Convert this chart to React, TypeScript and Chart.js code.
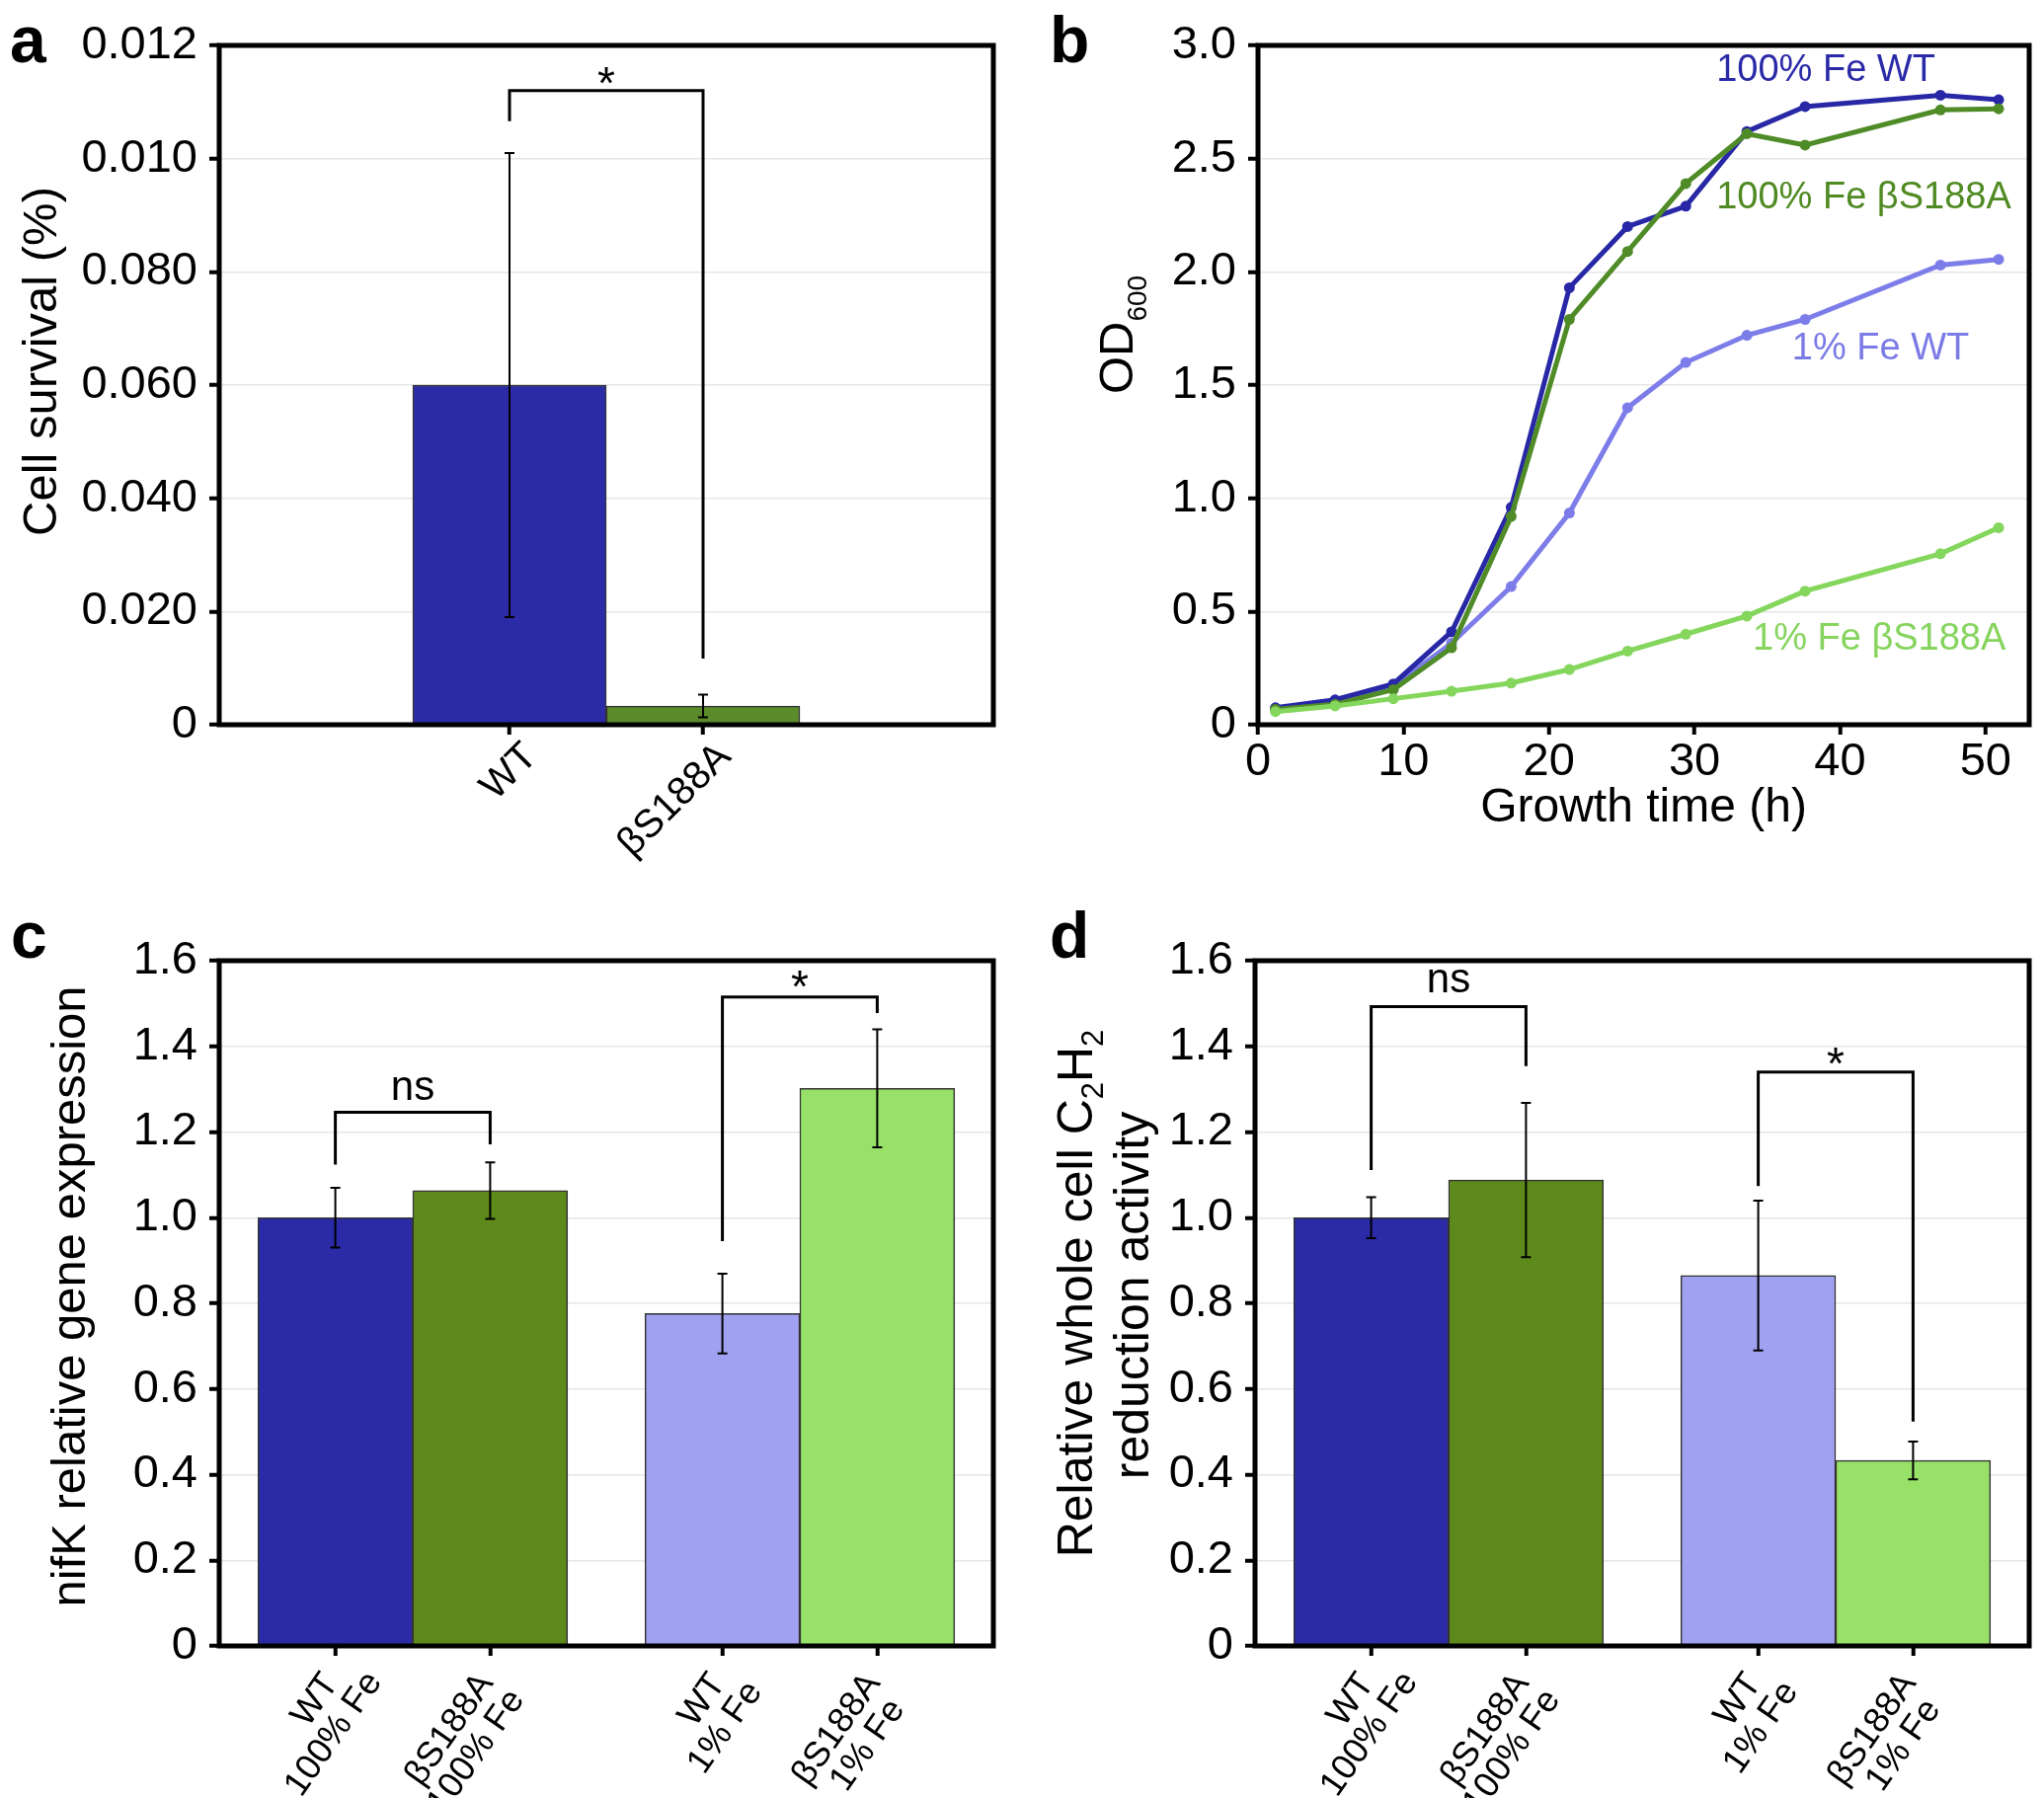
import React, { useEffect, useRef } from 'react';
import { Chart, registerables } from 'chart.js';

Chart.register(...registerables);

const FONT = "'Liberation Sans', Arial, Helvetica, sans-serif";
const W = 2070;
const H = 1821;

// ---------------- data ----------------
// Panel a
const A_CATEGORIES = ['WT', 'βS188A'];
const A_VALUES = [0.06, 0.0033];
const A_ERRORS = [0.041, 0.002];
const A_Y_TICK_LABELS = ['0', '0.020', '0.040', '0.060', '0.080', '0.010', '0.012'];
const A_BRACKETS = [{ from: 0, to: 1, left: 0.1066, top: 0.112, right: 0.0117, text: '*', textY: 0.1153 }];

// Panel b
const B_TIME = [1.2, 5.3, 9.3, 13.3, 17.4, 21.4, 25.4, 29.4, 33.6, 37.6, 46.9, 50.9];
const B_WT_100 = [0.075, 0.11, 0.18, 0.41, 0.96, 1.93, 2.2, 2.29, 2.62, 2.73, 2.78, 2.76];
const B_MUT_100 = [0.068, 0.09, 0.155, 0.34, 0.92, 1.79, 2.09, 2.39, 2.61, 2.56, 2.715, 2.72];
const B_WT_1 = [0.07, 0.105, 0.17, 0.36, 0.61, 0.935, 1.4, 1.6, 1.72, 1.79, 2.03, 2.055];
const B_MUT_1 = [0.058, 0.083, 0.115, 0.148, 0.184, 0.244, 0.325, 0.4, 0.48, 0.59, 0.755, 0.87];
const B_SERIES_NAMES = ['100% Fe WT', '100% Fe βS188A', '1% Fe WT', '1% Fe βS188A'];
const B_NAME_X = [31.5, 31.5, 36.7, 34.0];
const B_NAME_Y = [2.887, 2.326, 1.657, 0.379];

// Panels c and d
const CD_CATEGORIES = [
  ['WT', '100% Fe'],
  ['βS188A', '100% Fe'],
  ['WT', '1% Fe'],
  ['βS188A', '1% Fe'],
];
const C_VALUES = [1.0, 1.063, 0.776, 1.302];
const C_ERRORS = [0.07, 0.066, 0.093, 0.138];
const C_BRACKETS = [
  { from: 0, to: 1, left: 1.124, top: 1.246, right: 1.171, text: 'ns', textY: 1.3 },
  { from: 2, to: 3, left: 0.945, top: 1.515, right: 1.478, text: '*', textY: 1.565 },
];
const D_VALUES = [1.0, 1.088, 0.865, 0.433];
const D_ERRORS = [0.048, 0.18, 0.175, 0.044];
const D_BRACKETS = [
  { from: 0, to: 1, left: 1.111, top: 1.493, right: 1.354, text: 'ns', textY: 1.552 },
  { from: 2, to: 3, left: 1.074, top: 1.34, right: 0.524, text: '*', textY: 1.384 },
];

// ---------------- styling / layout ----------------
const COL_WT100 = '#2b2aa7';
const COL_MUT100 = '#5e8a1c';
const COL_WT1 = '#a1a1f1';
const COL_MUT1 = '#97e168';
const COL_A_MUT = '#5b8b2b';
const LINE_COLS = ['#2828a6', '#4f8b27', '#7d7dea', '#84d65c'];
const TEXT_COLS = ['#2a2aa8', '#4f8a22', '#7b7be6', '#86d45e'];

const PANEL_A = { left: 222, top: 46, right: 1006, bottom: 734 };
const PANEL_B = { left: 1274, top: 46, right: 2055, bottom: 734 };
const PANEL_C = { left: 222, top: 973, right: 1006, bottom: 1667 };
const PANEL_D = { left: 1271, top: 973, right: 2055, bottom: 1667 };
const A_SLOTS = [1.5, 2.5];
const CD_SLOTS = [1.5, 3.5, 6.5, 8.5];

const AXIS_W = 200;
const AXIS_H = 80;
const TICK_SIZE = 47;

type Rect = { left: number; top: number; right: number; bottom: number };
type Bracket = { from: number; to: number; left: number; top: number; right: number; text: string; textY: number };
type Run = { text: string; size: number; dy?: number };

function layoutFor(p: Rect) {
  return {
    padding: { left: p.left - AXIS_W, top: p.top, right: W - p.right, bottom: H - p.bottom - AXIS_H },
  };
}
const fitY = (s: any) => {
  s.width = AXIS_W;
  s.paddingTop = 0; s.paddingBottom = 0; s.paddingLeft = 0; s.paddingRight = 0;
};
const fitX = (s: any) => {
  s.height = AXIS_H;
  s.paddingTop = 0; s.paddingBottom = 0; s.paddingLeft = 0; s.paddingRight = 0;
};

const tickGrid = (onArea: boolean) => ({
  drawOnChartArea: onArea,
  color: '#e6e6e6',
  lineWidth: 1.5,
  tickColor: '#000',
  tickWidth: 4,
  tickLength: 10,
  offset: false,
});

function drawFrame(chart: any) {
  const { ctx, chartArea: a } = chart;
  ctx.save();
  ctx.strokeStyle = '#000';
  ctx.lineWidth = 5;
  ctx.strokeRect(a.left, a.top, a.right - a.left, a.bottom - a.top);
  ctx.restore();
}

function drawErrorBars(chart: any, slots: number[], values: number[], errors: number[]) {
  const { ctx } = chart;
  const x = chart.scales.x;
  const y = chart.scales.y;
  ctx.save();
  ctx.strokeStyle = '#000';
  ctx.lineWidth = 2;
  values.forEach((v, i) => {
    const px = x.getPixelForValue(slots[i]);
    const t = y.getPixelForValue(v + errors[i]);
    const b = y.getPixelForValue(v - errors[i]);
    ctx.beginPath();
    ctx.moveTo(px, t); ctx.lineTo(px, b);
    ctx.moveTo(px - 5, t); ctx.lineTo(px + 5, t);
    ctx.moveTo(px - 5, b); ctx.lineTo(px + 5, b);
    ctx.stroke();
  });
  ctx.restore();
}

function drawBrackets(chart: any, slots: number[], brackets: Bracket[]) {
  const { ctx } = chart;
  const x = chart.scales.x;
  const y = chart.scales.y;
  ctx.save();
  ctx.strokeStyle = '#000';
  ctx.fillStyle = '#000';
  ctx.lineWidth = 3;
  ctx.lineJoin = 'miter';
  brackets.forEach((br) => {
    const x1 = x.getPixelForValue(slots[br.from]);
    const x2 = x.getPixelForValue(slots[br.to]);
    const yt = y.getPixelForValue(br.top);
    ctx.beginPath();
    ctx.moveTo(x1, y.getPixelForValue(br.left));
    ctx.lineTo(x1, yt);
    ctx.lineTo(x2, yt);
    ctx.lineTo(x2, y.getPixelForValue(br.right));
    ctx.stroke();
    const star = br.text === '*';
    const size = star ? 46 : 42;
    ctx.font = `${size}px ${FONT}`;
    ctx.textAlign = 'center';
    ctx.textBaseline = 'alphabetic';
    const cy = y.getPixelForValue(br.textY);
    ctx.fillText(br.text, (x1 + x2) / 2, cy + (star ? 0.58 : 0.26) * size);
  });
  ctx.restore();
}

// Rotated multi-line tick labels; first line's end sits at the anchor,
// following lines are shifted toward a common centre by `align` (0 = right aligned, 1 = centred).
function drawRotatedLabels(
  chart: any,
  slots: number[],
  labels: string[][],
  size: number,
  angleDeg: number,
  dx: number,
  dy: number,
  lineH: number,
  align: number,
) {
  const { ctx, chartArea } = chart;
  const x = chart.scales.x;
  ctx.save();
  ctx.fillStyle = '#000';
  ctx.font = `${size}px ${FONT}`;
  ctx.textBaseline = 'middle';
  ctx.textAlign = 'right';
  labels.forEach((lines, i) => {
    const px = x.getPixelForValue(slots[i]) + dx;
    const py = chartArea.bottom + dy;
    ctx.save();
    ctx.translate(px, py);
    ctx.rotate((-angleDeg * Math.PI) / 180);
    const w0 = ctx.measureText(lines[0]).width;
    lines.forEach((ln, j) => {
      const wj = ctx.measureText(ln).width;
      const endU = (align * (wj - w0)) / 2;
      ctx.fillText(ln, endU, j * lineH);
    });
    ctx.restore();
  });
  ctx.restore();
}

function drawVerticalRuns(ctx: CanvasRenderingContext2D, runs: Run[], baselineX: number, centerY: number) {
  ctx.save();
  ctx.translate(baselineX, centerY);
  ctx.rotate(-Math.PI / 2);
  ctx.fillStyle = '#000';
  ctx.textBaseline = 'alphabetic';
  ctx.textAlign = 'left';
  let total = 0;
  const widths = runs.map((r) => {
    ctx.font = `${r.size}px ${FONT}`;
    const w = ctx.measureText(r.text).width;
    total += w;
    return w;
  });
  let cx = -total / 2;
  runs.forEach((r, i) => {
    ctx.font = `${r.size}px ${FONT}`;
    ctx.fillText(r.text, cx, r.dy || 0);
    cx += widths[i];
  });
  ctx.restore();
}

function drawLetter(ctx: CanvasRenderingContext2D, letter: string, x: number, y: number) {
  ctx.save();
  ctx.fillStyle = '#000';
  ctx.font = `bold 66px ${FONT}`;
  ctx.textAlign = 'left';
  ctx.textBaseline = 'alphabetic';
  ctx.fillText(letter, x, y);
  ctx.restore();
}

function drawText(ctx: CanvasRenderingContext2D, text: string, x: number, y: number, size: number) {
  ctx.save();
  ctx.fillStyle = '#000';
  ctx.font = `${size}px ${FONT}`;
  ctx.textAlign = 'center';
  ctx.textBaseline = 'alphabetic';
  ctx.fillText(text, x, y);
  ctx.restore();
}

const baseOptions = {
  responsive: false,
  maintainAspectRatio: false,
  animation: false as const,
  devicePixelRatio: 1,
  events: [] as any[],
  plugins: { legend: { display: false }, tooltip: { enabled: false } },
};

const yTicksFont = { family: FONT, size: TICK_SIZE };

function barConfig(
  panel: Rect,
  slots: number[],
  xMax: number,
  values: number[],
  colors: string[],
  yMax: number,
  yStep: number,
  yLabel: (v: number, i: number) => string,
  overlay: (chart: any) => void,
  after: (chart: any) => void,
): any {
  return {
    type: 'bar',
    data: {
      datasets: [
        {
          data: values.map((v, i) => ({ x: slots[i], y: v })),
          backgroundColor: colors,
          borderColor: '#333',
          borderWidth: 1.5,
          barPercentage: 1,
          categoryPercentage: 1,
        },
      ],
    },
    options: {
      ...baseOptions,
      layout: layoutFor(panel),
      scales: {
        x: {
          type: 'linear',
          min: 0,
          max: xMax,
          offset: false,
          ticks: { display: false },
          grid: tickGrid(false),
          border: { display: false },
          afterBuildTicks: (s: any) => {
            s.ticks = slots.map((v) => ({ value: v }));
          },
          afterFit: fitX,
        },
        y: {
          type: 'linear',
          min: 0,
          max: yMax,
          ticks: {
            stepSize: yStep,
            includeBounds: false,
            callback: (v: any, i: number) => yLabel(Number(v), i),
            font: yTicksFont,
            color: '#000',
            padding: 12,
          },
          grid: tickGrid(true),
          border: { display: false },
          afterFit: fitY,
        },
      },
    },
    plugins: [
      {
        id: 'overlay',
        afterDatasetsDraw: overlay,
        afterDraw: (chart: any) => {
          drawFrame(chart);
          after(chart);
        },
      },
    ],
  };
}

function configA(): any {
  return barConfig(
    PANEL_A,
    A_SLOTS,
    4,
    A_VALUES,
    [COL_WT100, COL_A_MUT],
    0.12,
    0.02,
    (_v, i) => A_Y_TICK_LABELS[i] ?? '',
    (chart) => {
      drawErrorBars(chart, A_SLOTS, A_VALUES, A_ERRORS);
      drawBrackets(chart, A_SLOTS, A_BRACKETS);
    },
    (chart) => {
      drawRotatedLabels(chart, A_SLOTS, A_CATEGORIES.map((c) => [c]), 40, 45, 22, 26, 40, 0);
      drawVerticalRuns(chart.ctx, [{ text: 'Cell survival (%)', size: 49 }], 57, 366);
      drawLetter(chart.ctx, 'a', 10, 63);
    },
  );
}

const cdLabel = (v: number) => (v === 0 ? '0' : v.toFixed(1));

function configC(): any {
  return barConfig(
    PANEL_C,
    CD_SLOTS,
    10,
    C_VALUES,
    [COL_WT100, COL_MUT100, COL_WT1, COL_MUT1],
    1.6,
    0.2,
    (v) => cdLabel(v),
    (chart) => {
      drawErrorBars(chart, CD_SLOTS, C_VALUES, C_ERRORS);
      drawBrackets(chart, CD_SLOTS, C_BRACKETS);
    },
    (chart) => {
      drawRotatedLabels(chart, CD_SLOTS, CD_CATEGORIES, 36, 55, -4, 32, 35, 0.6);
      drawVerticalRuns(chart.ctx, [{ text: 'nifK relative gene expression', size: 49 }], 86, 1313);
      drawLetter(chart.ctx, 'c', 11, 970);
    },
  );
}

function configD(): any {
  return barConfig(
    PANEL_D,
    CD_SLOTS,
    10,
    D_VALUES,
    [COL_WT100, COL_MUT100, COL_WT1, COL_MUT1],
    1.6,
    0.2,
    (v) => cdLabel(v),
    (chart) => {
      drawErrorBars(chart, CD_SLOTS, D_VALUES, D_ERRORS);
      drawBrackets(chart, CD_SLOTS, D_BRACKETS);
    },
    (chart) => {
      drawRotatedLabels(chart, CD_SLOTS, CD_CATEGORIES, 36, 55, -4, 32, 35, 0.6);
      drawVerticalRuns(
        chart.ctx,
        [
          { text: 'Relative whole cell C', size: 50 },
          { text: '2', size: 31, dy: 11 },
          { text: 'H', size: 50 },
          { text: '2', size: 31, dy: 11 },
        ],
        1106,
        1310,
      );
      drawVerticalRuns(chart.ctx, [{ text: 'reduction activity', size: 50 }], 1163, 1312);
      drawLetter(chart.ctx, 'd', 1063, 970);
    },
  );
}

function configB(): any {
  const series = [B_WT_100, B_MUT_100, B_WT_1, B_MUT_1];
  // draw order: first dataset ends up on top
  const order = [3, 1, 0, 2];
  return {
    type: 'line',
    data: {
      datasets: order.map((k) => ({
        label: B_SERIES_NAMES[k],
        data: series[k].map((v, i) => ({ x: B_TIME[i], y: v })),
        borderColor: LINE_COLS[k],
        backgroundColor: LINE_COLS[k],
        pointBackgroundColor: LINE_COLS[k],
        pointBorderWidth: 0,
        pointRadius: 5.5,
        borderWidth: 5,
        tension: 0,
        fill: false,
      })),
    },
    options: {
      ...baseOptions,
      layout: layoutFor(PANEL_B),
      scales: {
        x: {
          type: 'linear',
          min: 0,
          max: 53,
          ticks: {
            stepSize: 10,
            includeBounds: false,
            autoSkip: false,
            maxRotation: 0,
            minRotation: 0,
            font: { family: FONT, size: TICK_SIZE },
            color: '#000',
            padding: 0,
          },
          grid: tickGrid(false),
          border: { display: false },
          afterFit: fitX,
        },
        y: {
          type: 'linear',
          min: 0,
          max: 3,
          ticks: {
            stepSize: 0.5,
            includeBounds: false,
            callback: (v: any) => cdLabel(Number(v)),
            font: yTicksFont,
            color: '#000',
            padding: 12,
          },
          grid: tickGrid(true),
          border: { display: false },
          afterFit: fitY,
        },
      },
    },
    plugins: [
      {
        id: 'overlayB',
        afterDraw: (chart: any) => {
          const { ctx } = chart;
          const x = chart.scales.x;
          const y = chart.scales.y;
          drawFrame(chart);
          ctx.save();
          ctx.font = `38px ${FONT}`;
          ctx.textAlign = 'left';
          ctx.textBaseline = 'middle';
          B_SERIES_NAMES.forEach((name, i) => {
            ctx.fillStyle = TEXT_COLS[i];
            ctx.fillText(name, x.getPixelForValue(B_NAME_X[i]), y.getPixelForValue(B_NAME_Y[i]));
          });
          ctx.restore();
          drawVerticalRuns(ctx, [{ text: 'OD', size: 49 }, { text: '600', size: 28, dy: 14 }], 1147, 339);
          drawText(ctx, 'Growth time (h)', (chart.chartArea.left + chart.chartArea.right) / 2, 832, 48);
          drawLetter(ctx, 'b', 1063, 63);
        },
      },
    ],
  };
}

export default function App() {
  const ra = useRef<HTMLCanvasElement>(null);
  const rb = useRef<HTMLCanvasElement>(null);
  const rc = useRef<HTMLCanvasElement>(null);
  const rd = useRef<HTMLCanvasElement>(null);

  useEffect(() => {
    document.body.style.margin = '0';
    const charts = [
      new Chart(ra.current as HTMLCanvasElement, configA()),
      new Chart(rb.current as HTMLCanvasElement, configB()),
      new Chart(rc.current as HTMLCanvasElement, configC()),
      new Chart(rd.current as HTMLCanvasElement, configD()),
    ];
    return () => charts.forEach((c) => c.destroy());
  }, []);

  const refs = [ra, rb, rc, rd];
  return (
    <div style={{ position: 'relative', width: W, height: H, background: '#fff', overflow: 'hidden' }}>
      {refs.map((r, i) => (
        <canvas
          key={i}
          ref={r}
          width={W}
          height={H}
          style={{ position: 'absolute', left: 0, top: 0, width: W, height: H }}
        />
      ))}
    </div>
  );
}
